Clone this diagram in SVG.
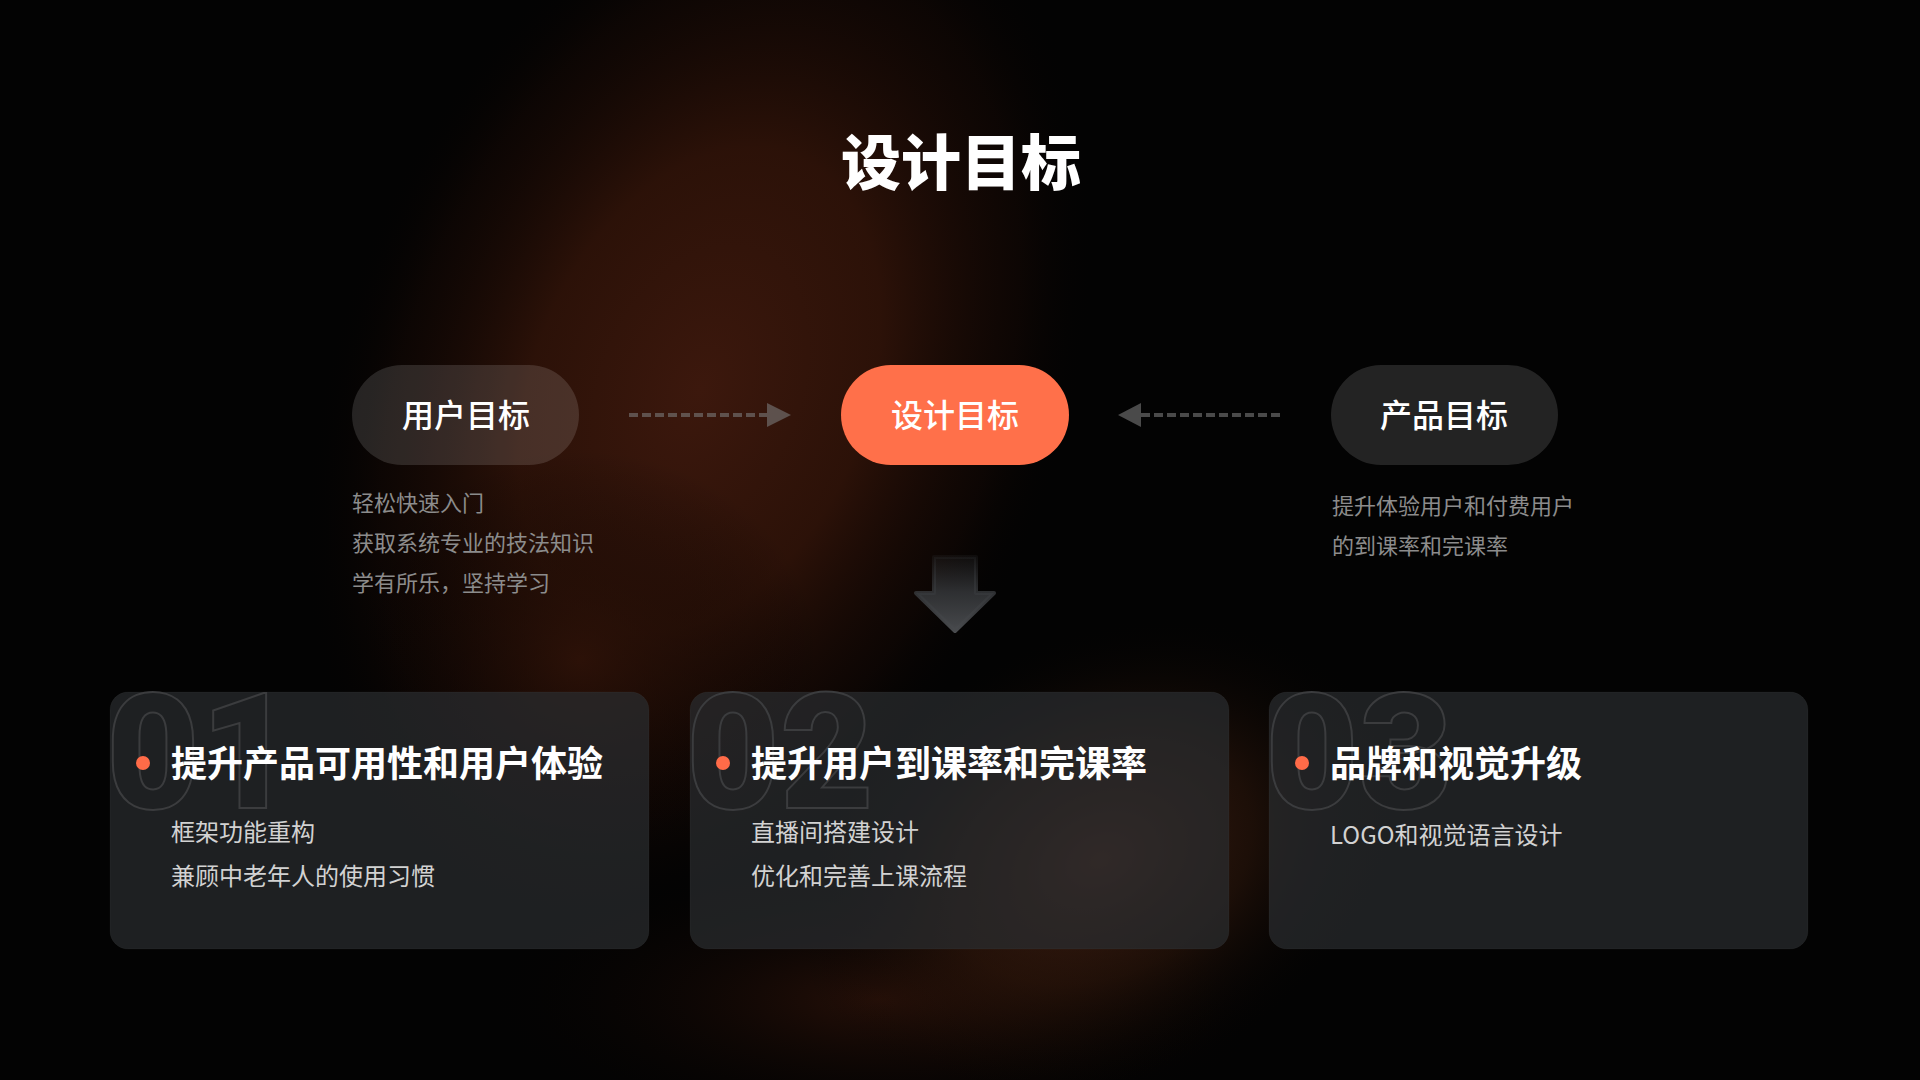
<svg xmlns="http://www.w3.org/2000/svg" width="1920" height="1080" viewBox="0 0 1920 1080">
  <defs>
    <style>
      .cjk { font-family: "Noto Sans CJK SC", "Noto Sans", sans-serif; }
      .title { font-size: 60px; font-weight: 900; fill: #ffffff; }
      .pilltxt { font-size: 32px; font-weight: 500; fill: #ffffff; }
      .desc { font-size: 22px; font-weight: 400; fill: #8c8c8c; }
      .ctitle { font-size: 36px; font-weight: 700; fill: #ffffff; }
      .csub { font-size: 24px; font-weight: 400; fill: #d2d2d2; }
      .num { font-family: Roboto, "Liberation Sans", sans-serif; font-size: 162px; font-weight: 900; fill: none; stroke: #3b3c3e; stroke-width: 2; }
      .card { fill: #2a2c2f; fill-opacity: 0.72; stroke: #ffffff; stroke-opacity: 0.03; stroke-width: 1; }
      .pill { fill: #ffffff; fill-opacity: 0.13; }
      .dash { stroke: #7a7a7a; stroke-opacity: 0.6; stroke-width: 4; stroke-dasharray: 9 4; stroke-linecap: butt; fill: none; }
      .head { fill: #7a7a7a; fill-opacity: 0.6; }
      .dot { fill: #ff6b48; }
    </style>
    <radialGradient id="gMain" gradientUnits="userSpaceOnUse" cx="0" cy="0" r="1" gradientTransform="translate(700 390) rotate(22) scale(370 560)">
      <stop offset="0" stop-color="#3c180d"/>
      <stop offset="0.45" stop-color="#331409" stop-opacity="0.85"/>
      <stop offset="0.8" stop-color="#1e0b05" stop-opacity="0.35"/>
      <stop offset="1" stop-color="#000000" stop-opacity="0"/>
    </radialGradient>
    <radialGradient id="gCard2" gradientUnits="userSpaceOnUse" cx="0" cy="0" r="1" gradientTransform="translate(1100 860) rotate(-25) scale(320 230)">
      <stop offset="0" stop-color="#5e2e1e" stop-opacity="0.7"/>
      <stop offset="0.5" stop-color="#42200f" stop-opacity="0.4"/>
      <stop offset="1" stop-color="#000000" stop-opacity="0"/>
    </radialGradient>
    <radialGradient id="gBottom" gradientUnits="userSpaceOnUse" cx="0" cy="0" r="1" gradientTransform="translate(880 1000) scale(420 150)">
      <stop offset="0" stop-color="#2c1209" stop-opacity="0.85"/>
      <stop offset="1" stop-color="#000000" stop-opacity="0"/>
    </radialGradient>
    <radialGradient id="gLeftLow" gradientUnits="userSpaceOnUse" cx="0" cy="0" r="1" gradientTransform="translate(580 660) scale(240 210)">
      <stop offset="0" stop-color="#2e1208" stop-opacity="0.8"/>
      <stop offset="1" stop-color="#000000" stop-opacity="0"/>
    </radialGradient>
    <linearGradient id="downGrad" gradientUnits="userSpaceOnUse" x1="0" y1="550" x2="0" y2="634">
      <stop offset="0" stop-color="#2e3032" stop-opacity="0.1"/>
      <stop offset="0.5" stop-color="#35373a" stop-opacity="0.85"/>
      <stop offset="1" stop-color="#4a4c4f"/>
    </linearGradient>
  </defs>

  <!-- background -->
  <rect x="0" y="0" width="1920" height="1080" fill="#030303"/>
  <g id="background-glow">
    <rect x="0" y="0" width="1920" height="1080" fill="url(#gMain)"/>
    <rect x="0" y="0" width="1920" height="1080" fill="url(#gLeftLow)"/>
    <rect x="0" y="0" width="1920" height="1080" fill="url(#gBottom)"/>
    <rect x="0" y="0" width="1920" height="1080" fill="url(#gCard2)"/>
  </g>

  <!-- title -->
  <text class="cjk title" x="961" y="185" text-anchor="middle">设计目标</text>

  <!-- connectors -->
  <g id="connectors">
    <line class="dash" x1="629" y1="415" x2="767" y2="415"/>
    <polygon class="head" points="767,403 791,415 767,427"/>
    <line class="dash" x1="1280" y1="415" x2="1141" y2="415"/>
    <polygon class="head" points="1141,403 1118,415 1141,427"/>
    <path d="M934,557 H976 V593 H994 L955,631 L916,593 H934 Z" fill="url(#downGrad)" stroke="url(#downGrad)" stroke-width="4" stroke-linejoin="round"/>
  </g>

  <!-- top nodes -->
  <g id="node-user">
    <rect class="pill" x="352" y="365" width="227" height="100" rx="50"/>
    <text class="cjk pilltxt" x="466" y="427" text-anchor="middle">用户目标</text>
    <text class="cjk desc" x="352" y="511">轻松快速入门</text>
    <text class="cjk desc" x="352" y="551">获取系统专业的技法知识</text>
    <text class="cjk desc" x="352" y="591">学有所乐，坚持学习</text>
  </g>
  <g id="node-design">
    <rect x="841" y="365" width="228" height="100" rx="50" fill="#ff704a"/>
    <text class="cjk pilltxt" x="955" y="427" text-anchor="middle">设计目标</text>
  </g>
  <g id="node-product">
    <rect class="pill" x="1331" y="365" width="227" height="100" rx="50"/>
    <text class="cjk pilltxt" x="1444" y="427" text-anchor="middle">产品目标</text>
    <text class="cjk desc" x="1332" y="514">提升体验用户和付费用户</text>
    <text class="cjk desc" x="1332" y="554">的到课率和完课率</text>
  </g>

  <!-- cards -->
  <g id="card-01">
    <rect class="card" x="110" y="692" width="539" height="257" rx="18"/>
    <text class="num" x="106" y="808">01</text>
    <circle class="dot" cx="143" cy="763" r="7"/>
    <text class="cjk ctitle" x="171" y="777">提升产品可用性和用户体验</text>
    <text class="cjk csub" x="171" y="841">框架功能重构</text>
    <text class="cjk csub" x="171" y="885">兼顾中老年人的使用习惯</text>
  </g>
  <g id="card-02">
    <rect class="card" x="690" y="692" width="539" height="257" rx="18"/>
    <text class="num" x="686" y="808">02</text>
    <circle class="dot" cx="723" cy="763" r="7"/>
    <text class="cjk ctitle" x="751" y="777">提升用户到课率和完课率</text>
    <text class="cjk csub" x="751" y="841">直播间搭建设计</text>
    <text class="cjk csub" x="751" y="885">优化和完善上课流程</text>
  </g>
  <g id="card-03">
    <rect class="card" x="1269" y="692" width="539" height="257" rx="18"/>
    <text class="num" x="1265" y="808">03</text>
    <circle class="dot" cx="1302" cy="763" r="7"/>
    <text class="cjk ctitle" x="1330" y="777">品牌和视觉升级</text>
    <text class="cjk csub" x="1330" y="844">LOGO和视觉语言设计</text>
  </g>
</svg>
